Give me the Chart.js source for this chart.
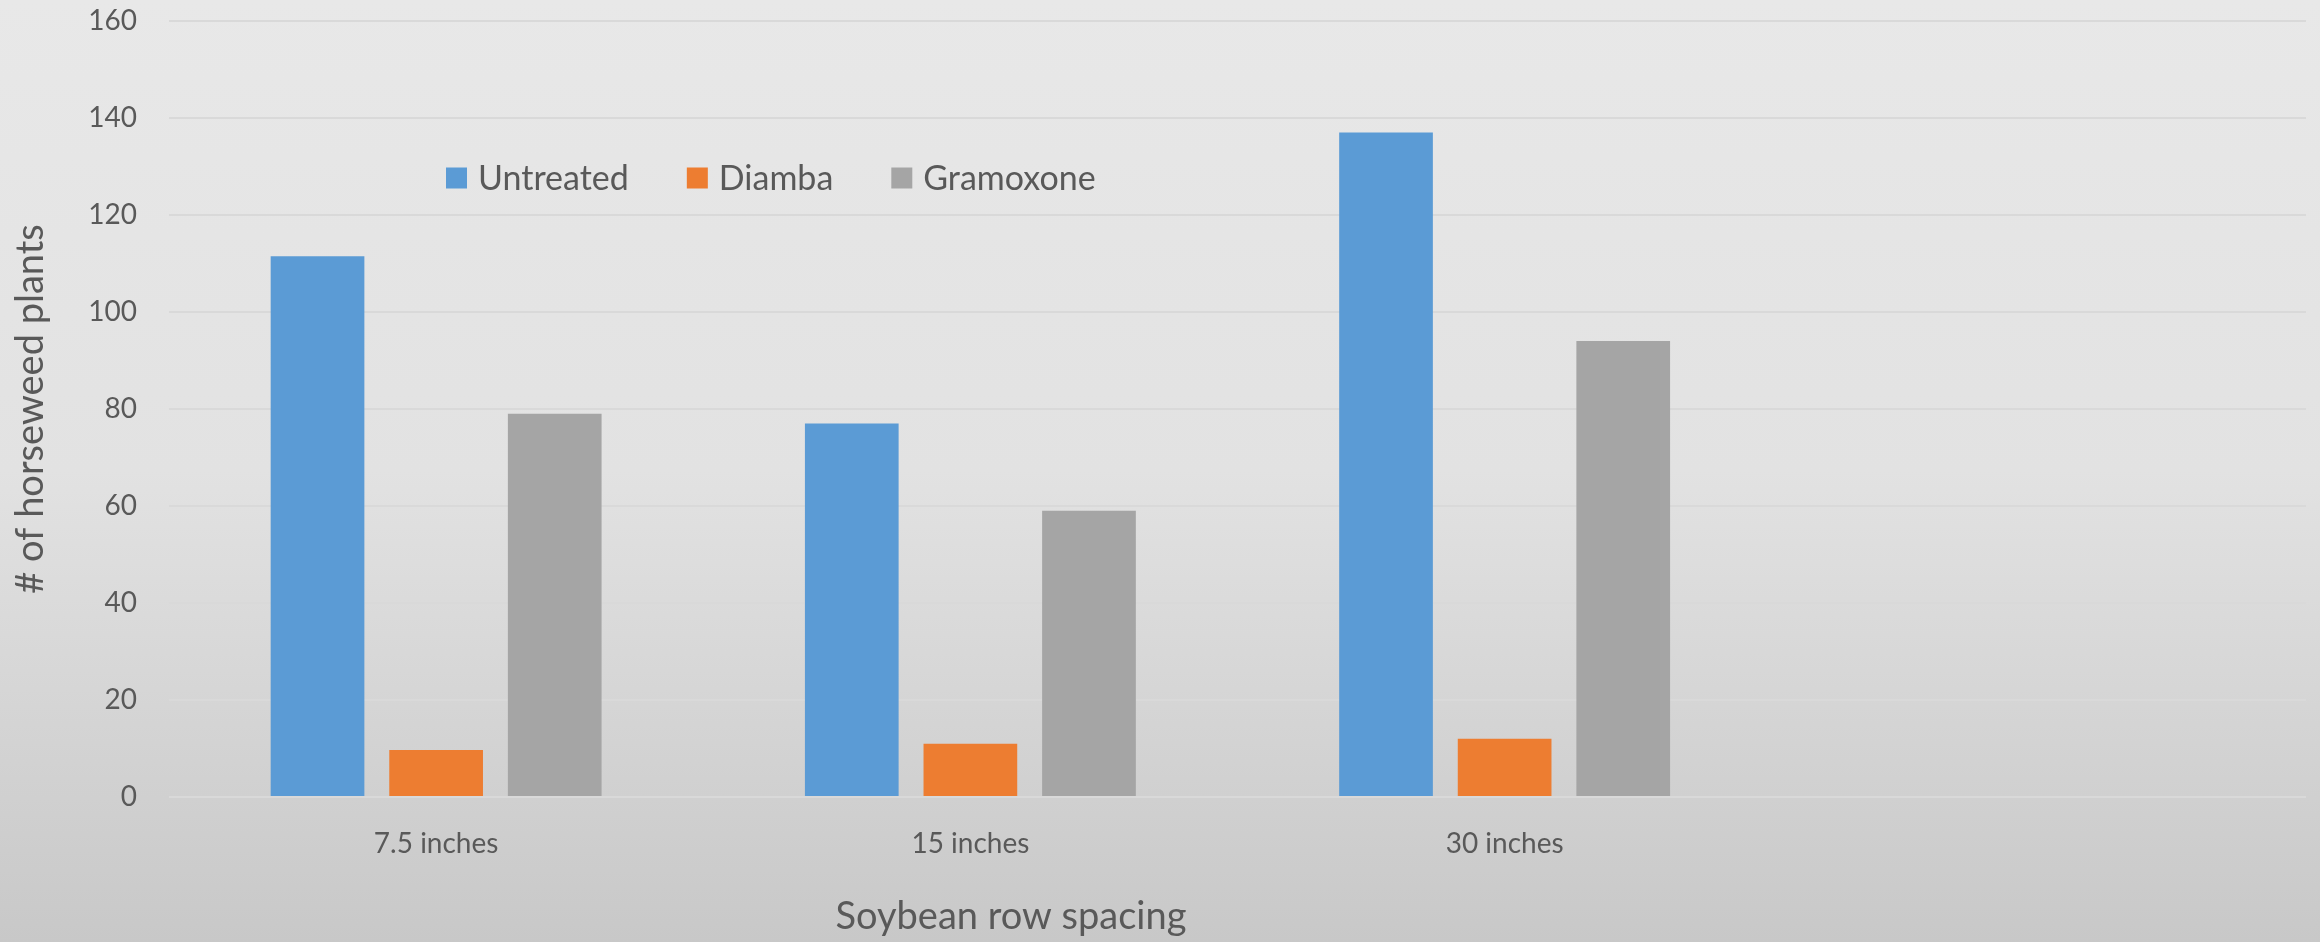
<!DOCTYPE html>
<html>
<head>
<meta charset="utf-8">
<script src="https://cdn.jsdelivr.net/npm/chart.js@4.4.1/dist/chart.umd.min.js"></script>
<style>
  html, body { margin: 0; padding: 0; background: #d8d8d8; }
  #wrap { width: 2320px; height: 942px; }
</style>
</head>
<body>
<div id="wrap"><canvas id="c" width="2320" height="942"></canvas></div>
<script>
const categories = ['7.5 inches', '15 inches', '30 inches', ''];
const untreated = [111.5, 77, 137, null];
const diamba = [9.7, 11, 12, null];
const gramoxone = [79, 59, 94, null];
const seriesNames = ['Untreated', 'Diamba', 'Gramoxone'];
const seriesColors = ['#5B9BD5', '#ED7D31', '#A5A5A5'];
const yTicks = [0, 20, 40, 60, 80, 100, 120, 140, 160];
const xTitle = 'Soybean row spacing';
const yTitle = '# of horseweed plants';

const FONT = 'Lato, "Liberation Sans", sans-serif';
const TEXT = '#595959';

const bgPlugin = {
  id: 'bg',
  beforeDraw(chart) {
    const ctx = chart.ctx;
    const g = ctx.createLinearGradient(0, 0, 0, chart.height);
    g.addColorStop(0, '#e8e8e8');
    g.addColorStop(0.5, '#e2e2e2');
    g.addColorStop(1, '#c8c8c8');
    ctx.save();
    ctx.fillStyle = g;
    ctx.fillRect(0, 0, chart.width, chart.height);
    ctx.restore();
  }
};

const legendPlugin = {
  id: 'customLegend',
  afterDraw(chart) {
    const ctx = chart.ctx;
    const area = chart.chartArea;
    ctx.save();
    ctx.font = '34px ' + FONT;
    ctx.textBaseline = 'middle';
    ctx.textAlign = 'left';
    let x = area.left + 277;
    const y = 178;
    chart.data.datasets.forEach(ds => {
      ctx.fillStyle = ds.backgroundColor;
      ctx.fillRect(x, y - 10.5, 21, 21);
      x += 21 + 11;
      ctx.fillStyle = TEXT;
      ctx.fillText(ds.label, x, y + 1);
      x += ctx.measureText(ds.label).width + 58;
    });
    ctx.restore();
  }
};

const xTitlePlugin = {
  id: 'xTitle',
  afterDraw(chart) {
    const ctx = chart.ctx;
    const area = chart.chartArea;
    ctx.save();
    ctx.font = '38px ' + FONT;
    ctx.fillStyle = TEXT;
    ctx.textAlign = 'center';
    ctx.textBaseline = 'middle';
    const x = area.left + (area.right - area.left) * 0.394;
    ctx.fillText(xTitle, x, 917);
    ctx.restore();
  }
};

const datasets = [untreated, diamba, gramoxone].map((d, i) => ({
  label: seriesNames[i],
  data: d,
  backgroundColor: seriesColors[i],
  borderWidth: 0,
  categoryPercentage: 0.666,
  barPercentage: 0.79
}));

new Chart(document.getElementById('c'), {
  type: 'bar',
  data: { labels: categories, datasets },
  options: {
    responsive: false,
    devicePixelRatio: 1,
    animation: false,
    layout: { padding: { left: 0, right: 14, top: 21, bottom: 0 } },
    plugins: {
      legend: { display: false },
      tooltip: { enabled: false }
    },
    scales: {
      x: {
        grid: { display: false },
        border: { display: false },
        ticks: { color: TEXT, font: { family: FONT, size: 28 }, padding: 22 },
        afterFit(s) { s.height = 145; s.paddingLeft = 0; s.paddingRight = 0; }
      },
      y: {
        min: 0,
        max: 160,
        afterBuildTicks(s) { s.ticks = yTicks.map(v => ({ value: v })); },
        grid: { color: '#d9d9d9', lineWidth: 2, drawTicks: false },
        border: { display: false },
        ticks: { color: TEXT, font: { family: FONT, size: 28 }, padding: 32 },
        title: {
          display: true,
          text: yTitle,
          color: TEXT,
          font: { family: FONT, size: 38 },
          padding: { top: 8, bottom: 0 }
        },
        afterFit(s) { s.width = 169; s.paddingTop = 0; s.paddingBottom = 0; }
      }
    }
  },
  plugins: [bgPlugin, legendPlugin, xTitlePlugin]
});
</script>
</body>
</html>
